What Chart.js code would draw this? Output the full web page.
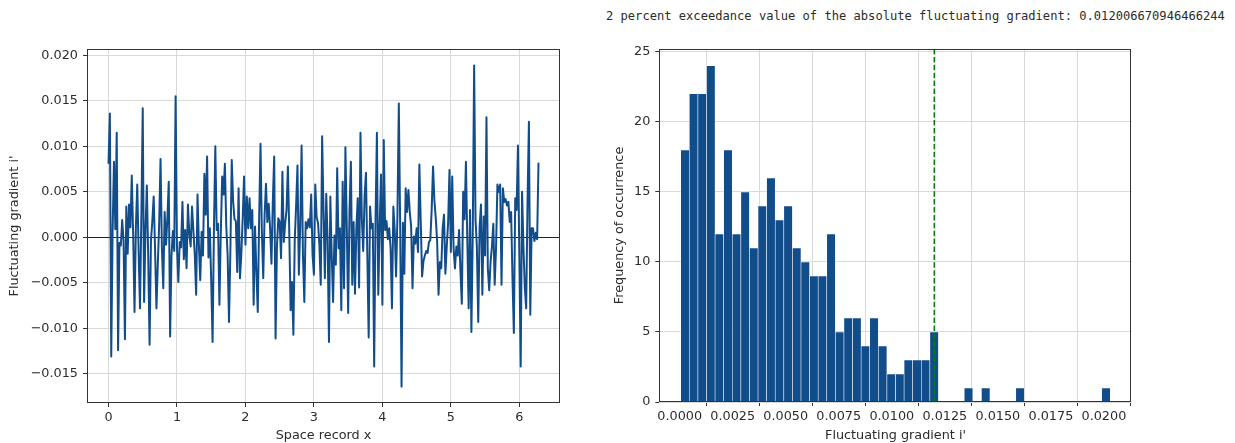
<!DOCTYPE html>
<html>
<head>
<meta charset="utf-8">
<script src="https://cdn.jsdelivr.net/npm/chart.js@4.4.1/dist/chart.umd.min.js"></script>
<style>
  html, body { margin: 0; padding: 0; background: #fff; width: 1235px; height: 443px; overflow: hidden; }
  #note {
    position: absolute; left: 606px; top: 9px;
    font-family: "DejaVu Sans Mono", "Liberation Mono", monospace;
    font-size: 12.1px; line-height: 14px; color: #2b2b2b; white-space: pre;
  }
  #left { position: absolute; left: 0; top: 0; }
  #right { position: absolute; left: 600px; top: 0; }
</style>
</head>
<body>
<div id="note">2 percent exceedance value of the absolute fluctuating gradient: 0.012006670946466244</div>
<canvas id="left" width="600" height="443"></canvas>
<canvas id="right" width="635" height="443"></canvas>
<script>
// Fluctuating gradient i' sampled along the space record, step 0.02
const xStep = 0.02;
const gradient = [
  0.0081, 0.0136, -0.0131, 0.0007, 0.0083, 0.0009, 0.0115, -0.0124, -0.0006, -0.0009,
  0.0019, -0.0004, -0.0112, 0.0034, -0.0018, 0.0036, 0.0011, 0.0068, 0.0004, -0.0082,
  0.0012, 0.0058, -0.0016, -0.0078, 0.0024, 0.0142, -0.0071, 0.0008, 0.0057, -0.0021,
  -0.0118, -0.0004, 0.0018, 0.0045, -0.0013, -0.0078, -0.0030, 0.0015, 0.0086, -0.0012,
  -0.0056, 0.0028, -0.0008, 0.0021, 0.0061, -0.0109, -0.0020, 0.0007, -0.0015, 0.0155,
  -0.0010, -0.0049, -0.0005, -0.0011, 0.0039, -0.0024, 0.0008, -0.0034, 0.0036, 0.0004,
  -0.0010, 0.0034, 0.0007, -0.0019, -0.0063, 0.0047, -0.0008, -0.0047, 0.0006, -0.0020,
  0.0070, 0.0025, 0.0089, -0.0022, 0.0010, -0.0048, -0.0115, 0.0010, 0.0100, 0.0008,
  0.0015, -0.0074, 0.0004, 0.0067, 0.0047, 0.0081, 0.0012, -0.0020, -0.0093, -0.0015,
  0.0085, 0.0040, 0.0020, 0.0018, -0.0038, 0.0054, -0.0045, -0.0018, 0.0021, 0.0067,
  -0.0008, 0.0045, 0.0010, 0.0043, 0.0010, 0.0030, -0.0074, 0.0012, -0.0038, -0.0082,
  0.0020, 0.0103, 0.0005, -0.0045, 0.0025, 0.0059, 0.0017, 0.0037, 0.0010, -0.0029,
  0.0040, 0.0089, -0.0111, -0.0010, 0.0021, 0.0017, -0.0023, 0.0072, -0.0005, 0.0015,
  0.0030, 0.0078, 0.0006, -0.0080, -0.0049, -0.0107, -0.0003, 0.0035, 0.0079, -0.0041,
  0.0012, 0.0101, -0.0020, -0.0071, 0.0017, 0.0010, 0.0020, 0.0011, 0.0047, -0.0019,
  -0.0041, 0.0058, 0.0022, 0.0016, -0.0008, -0.0052, 0.0111, 0.0030, -0.0045, 0.0048,
  -0.0003, -0.0115, 0.0045, -0.0020, -0.0071, 0.0002, -0.0030, 0.0076, -0.0012, 0.0010,
  -0.0080, 0.0061, -0.0056, 0.0099, 0.0012, -0.0083, 0.0030, 0.0083, -0.0052, 0.0017,
  -0.0062, 0.0010, 0.0043, -0.0055, 0.0115, 0.0020, -0.0015, 0.0045, 0.0071, -0.0020,
  -0.0110, 0.0034, 0.0010, 0.0015, -0.0142, 0.0020, 0.0115, -0.0063, 0.0012, 0.0069,
  -0.0074, 0.0107, 0.0008, 0.0018, -0.0002, 0.0010, -0.0012, -0.0078, 0.0034, 0.0008,
  -0.0043, 0.0025, 0.0147, 0.0012, -0.0164, 0.0016, -0.0040, 0.0054, 0.0028, 0.0052,
  0.0028, 0.0012, -0.0056, 0.0001, -0.0007, 0.0010, -0.0016, 0.0080, 0.0018, -0.0043,
  -0.0026, -0.0020, -0.0015, -0.0017, -0.0005, -0.0003, 0.0031, 0.0078, 0.0040, 0.0021,
  -0.0005, -0.0063, -0.0027, -0.0034, 0.0010, 0.0025, -0.0040, -0.0010, 0.0016, 0.0074,
  -0.0016, 0.0067, -0.0012, -0.0034, -0.0010, -0.0020, 0.0008, -0.0037, -0.0073, 0.0050,
  0.0020, 0.0083, -0.0003, -0.0078, 0.0030, -0.0104, 0.0005, 0.0189, 0.0020, -0.0010,
  -0.0093, 0.0012, 0.0036, -0.0063, 0.0023, -0.0020, 0.0132, -0.0034, -0.0058, -0.0027,
  -0.0010, 0.0015, -0.0052, -0.0012, 0.0058, 0.0050, 0.0058, -0.0052, 0.0054, 0.0039,
  0.0042, 0.0035, 0.0039, 0.0017, 0.0028, -0.0045, -0.0105, 0.0043, 0.0030, 0.0101,
  -0.0019, -0.0142, 0.0050, -0.0010, -0.0055, -0.0078, 0.0040, 0.0127, -0.0085, 0.0010,
  0.0010, -0.0004, 0.0005, -0.0002, 0.0082
];

// Histogram of |i'|: 50 equal bins between binLo and binHi
const binLo = 0.00005;
const binHi = 0.0203;
const histCounts = [
  18, 22, 22, 24, 12, 18, 12, 15, 11, 14,
  16, 13, 14, 11, 10, 9, 9, 12, 5, 6,
  6, 4, 6, 4, 2, 2, 3, 3, 3, 5,
  0, 0, 0, 1, 0, 1, 0, 0, 0, 1,
  0, 0, 0, 0, 0, 0, 0, 0, 0, 1
];
const exceedance2pct = 0.012006670946466244;

// Tick positions
const lineTicksX = [0, 1, 2, 3, 4, 5, 6];
const lineTicksY = [-0.015, -0.010, -0.005, 0.000, 0.005, 0.010, 0.015, 0.020];
const histTicksX = [0, 0.0025, 0.005, 0.0075, 0.01, 0.0125, 0.015, 0.0175, 0.02];
const histTicksY = [0, 5, 10, 15, 20, 25];

const BLUE = '#124d8b';
const GRID = '#d9d9d9';
const AXIS = '#333333';
const TEXT = '#2b2b2b';
const FONT = { family: 'DejaVu Sans', size: 12.8, lineHeight: 1 };

const minus = s => s.replace('-', '\u2212');
const fixedTicks = arr => scale => { scale.ticks = arr.map(v => ({ value: v })); };

// Four-sided axes frame
const framePlugin = {
  id: 'frame',
  afterDatasetsDraw(chart) {
    const { ctx, chartArea: a } = chart;
    ctx.save();
    ctx.strokeStyle = AXIS;
    ctx.lineWidth = 1;
    ctx.strokeRect(Math.round(a.left) + 0.5, Math.round(a.top) + 0.5,
                   Math.round(a.right - a.left) - 1, Math.round(a.bottom - a.top) - 1);
    ctx.restore();
  }
};

// Horizontal reference line at i' = 0
const zeroLinePlugin = {
  id: 'zeroLine',
  beforeDatasetsDraw(chart) {
    const { ctx, chartArea: a, scales } = chart;
    const y = Math.round(scales.y.getPixelForValue(0)) + 0.5;
    ctx.save();
    ctx.strokeStyle = '#222';
    ctx.lineWidth = 1;
    ctx.beginPath();
    ctx.moveTo(a.left, y);
    ctx.lineTo(a.right, y);
    ctx.stroke();
    ctx.restore();
  }
};

// Dashed marker at the 2 percent exceedance value
const exceedancePlugin = {
  id: 'exceedance',
  afterDatasetsDraw(chart) {
    const { ctx, chartArea: a, scales } = chart;
    const x = scales.x.getPixelForValue(exceedance2pct);
    ctx.save();
    ctx.strokeStyle = '#008000';
    ctx.lineWidth = 1.6;
    ctx.setLineDash([5.5, 2.4]);
    ctx.beginPath();
    ctx.moveTo(x, a.top);
    ctx.lineTo(x, a.bottom);
    ctx.stroke();
    ctx.restore();
  }
};

const commonGrid = { color: GRID, lineWidth: 1, tickColor: AXIS, tickLength: 4 };

new Chart(document.getElementById('left'), {
  type: 'line',
  data: {
    datasets: [{
      data: gradient.map((v, i) => ({ x: i * xStep, y: v })),
      borderColor: BLUE,
      borderWidth: 2,
      pointRadius: 0,
      tension: 0,
      fill: false,
      borderJoinStyle: 'round'
    }]
  },
  options: {
    responsive: false,
    animation: false,
    layout: { padding: { top: 49, right: 40, left: 0, bottom: 0 } },
    plugins: { legend: { display: false }, tooltip: { enabled: false } },
    scales: {
      x: {
        type: 'linear', min: -0.314, max: 6.594,
        afterBuildTicks: fixedTicks(lineTicksX),
        afterFit: s => { s.height = 40; },
        ticks: { callback: v => String(v), font: FONT, color: TEXT, padding: 4, maxRotation: 0, autoSkip: false },
        grid: commonGrid,
        border: { display: false },
        title: { display: true, text: 'Space record x', font: FONT, color: TEXT, padding: { top: 0, bottom: 0.6 } }
      },
      y: {
        type: 'linear', min: -0.0182, max: 0.0207,
        afterBuildTicks: fixedTicks(lineTicksY),
        afterFit: s => { s.width = 87; },
        ticks: { callback: v => minus(v.toFixed(3)), font: FONT, color: TEXT, padding: 5, autoSkip: false },
        grid: commonGrid,
        border: { display: false },
        title: { display: true, text: "Fluctuating gradient i'", font: FONT, color: TEXT, padding: { top: 8.6, bottom: 0 } }
      }
    }
  },
  plugins: [zeroLinePlugin, framePlugin]
});

const binW = (binHi - binLo) / histCounts.length;
new Chart(document.getElementById('right'), {
  type: 'bar',
  data: {
    datasets: [{
      data: histCounts.map((c, k) => ({ x: binLo + (k + 0.5) * binW, y: c })),
      backgroundColor: BLUE,
      borderColor: 'rgba(255,255,255,0.75)',
      borderWidth: 0.6,
      borderSkipped: false,
      categoryPercentage: 1,
      barPercentage: 1
    }]
  },
  options: {
    responsive: false,
    animation: false,
    layout: { padding: { top: 49, right: 103.3, left: 0, bottom: 0 } },
    plugins: { legend: { display: false }, tooltip: { enabled: false } },
    scales: {
      x: {
        type: 'linear', offset: false, min: -0.00096, max: 0.02131,
        afterBuildTicks: fixedTicks(histTicksX),
        afterFit: s => { s.height = 41; },
        ticks: { callback: v => v.toFixed(4), font: FONT, color: TEXT, padding: 4, maxRotation: 0, autoSkip: false },
        grid: commonGrid,
        border: { display: false },
        title: { display: true, text: "Fluctuating gradient i'", font: FONT, color: TEXT, padding: { top: 0, bottom: 0.6 } }
      },
      y: {
        type: 'linear', min: 0, max: 25.2,
        afterBuildTicks: fixedTicks(histTicksY),
        afterFit: s => { s.width = 59.3; },
        ticks: { callback: v => String(v), font: FONT, color: TEXT, padding: 5, autoSkip: false },
        grid: commonGrid,
        border: { display: false },
        title: { display: true, text: 'Frequency of occurrence', font: FONT, color: TEXT, padding: { top: 13.6, bottom: 0 } }
      }
    }
  },
  plugins: [exceedancePlugin, framePlugin]
});
</script>
</body>
</html>
